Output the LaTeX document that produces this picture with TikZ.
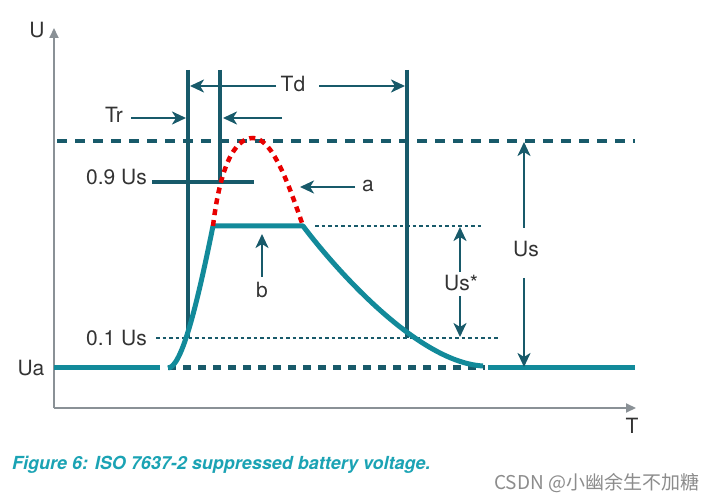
\documentclass[tikz,border=0pt]{standalone}
\usepackage{fontspec}
\setmainfont{TeX Gyre Heros}
\newfontfamily\cjkfont{Noto Sans CJK SC}
\usetikzlibrary{arrows.meta}
\definecolor{darkteal}{RGB}{24,90,106}
\definecolor{curveteal}{RGB}{18,138,154}
\definecolor{axisgray}{RGB}{138,145,150}
\definecolor{captionteal}{RGB}{27,163,180}
\definecolor{pulsered}{RGB}{232,0,0}

\begin{document}
\begin{tikzpicture}[x=1pt,y=-1pt]
	\tikzstyle{lbl} = [font=\fontsize{21}{21}\selectfont, text=black!80, inner sep=0pt]
	\tikzstyle{axis} = [axisgray, line width=2pt, -{Triangle[length=10pt,width=9pt]}]
	\tikzstyle{marker} = [darkteal, line width=3.5pt]
	\tikzstyle{pointer} = [darkteal, line width=2.5pt, -{Stealth[length=14pt,width=13pt,inset=4pt]}]
	\tikzstyle{level} = [darkteal, line width=4.5pt, dash pattern=on 10pt off 8pt]
	\tikzstyle{base} = [darkteal, line width=5pt, dash pattern=on 8pt off 7pt]
	\tikzstyle{thin} = [darkteal, line width=1.5pt, dash pattern=on 3.5pt off 3pt]
	\tikzstyle{pulse} = [curveteal, line width=5pt]

	\useasboundingbox (0,0) rectangle (720,502);

	% axes
	\coordinate (o) at (54,408);
	\coordinate (utop) at (54,28);
	\coordinate (tend) at (636,408);
	\draw [axis] (o) -- (utop);
	\draw [axis] (o) -- (tend);
	\node (U) [lbl] at (37,30) {U};
	\node (T) [lbl] at (632,426) {T};

	% reference levels
	\coordinate (us1) at (57,141);
	\coordinate (us2) at (635,141);
	\draw [level] (us1) -- (us2);
	\coordinate (ua1) at (168,368);
	\coordinate (ua2) at (485,368);
	\draw [base] (ua1) -- (ua2);
	\coordinate (p10a) at (156,338);
	\coordinate (p10b) at (498,338);
	\draw [thin] (p10a) -- (p10b);
	\coordinate (flat1) at (315,226);
	\coordinate (flat2) at (483,226);
	\draw [thin] (flat1) -- (flat2);

	% time markers
	\coordinate (m1a) at (188,70);
	\coordinate (m1b) at (188,338);
	\coordinate (m2a) at (220,70);
	\coordinate (m2b) at (220,182);
	\coordinate (m3a) at (407,70);
	\coordinate (m3b) at (407,338);
	\draw [marker] (m1a) -- (m1b);
	\draw [marker] (m2a) -- (m2b);
	\draw [marker] (m3a) -- (m3b);
	\coordinate (p90a) at (152,182);
	\coordinate (p90b) at (254,182);
	\draw [marker] (p90a) -- (p90b);

	% pulse
	\coordinate (s0) at (54,368);
	\coordinate (s1) at (160,368);
	\coordinate (r0) at (168,368);
	\coordinate (r1) at (213,226);
	\coordinate (f1) at (303,226);
	\coordinate (e0) at (483,366);
	\coordinate (e1) at (488,368);
	\coordinate (e2) at (635,368);
	\draw [pulse] (s0) -- (s1);
	\draw [pulse, line join=round] (r0) .. controls (182,368) and (198,300) .. (r1) -- (f1)
		.. controls (330,262) and (415,362) .. (e0);
	\draw [pulse] (e1) -- (e2);
	\coordinate (peak) at (253,138);
	\draw [pulsered, line width=4.5pt, dash pattern=on 6pt off 5pt]
		(r1) .. controls (220,168) and (234,138) .. (peak)
		.. controls (272,138) and (288,182) .. (f1);

	% labels
	\node (Ua) [lbl] at (31,368) {Ua};
	\node (l01) [lbl, anchor=east] at (147,338) {0.1 Us};
	\node (l09) [lbl, anchor=east] at (147,177) {0.9 Us};
	\node (Tr) [lbl] at (114,115) {Tr};
	\node (Td) [lbl] at (293,84) {Td};
	\node (a) [lbl] at (368,186) {a};
	\node (b) [lbl] at (262,290) {b};
	\node (Uss) [lbl] at (461,283) {Us*};
	\node (Us) [lbl] at (526,249) {Us};

	% dimension arrows
	\coordinate (td1) at (276,86);
	\coordinate (td2) at (319,86);
	\draw [pointer] (td1) -- (190,86);
	\draw [pointer] (td2) -- (405,86);
	\coordinate (tr1) at (131,118);
	\coordinate (tr2) at (282,118);
	\draw [pointer] (tr1) -- (186,118);
	\draw [pointer] (tr2) -- (223,118);
	\coordinate (aa) at (355,187);
	\draw [pointer] (aa) -- (300,187);
	\coordinate (bb) at (262,277);
	\draw [pointer] (bb) -- (262,234);
	\coordinate (uss1) at (460,272);
	\coordinate (uss2) at (460,296);
	\draw [pointer] (uss1) -- (460,227);
	\draw [pointer] (uss2) -- (460,337);
	\coordinate (us3) at (524,228);
	\coordinate (us4) at (524,278);
	\draw [pointer] (us3) -- (524,142);
	\draw [pointer] (us4) -- (524,367);

	% caption
	\node (cap) [anchor=west, inner sep=0pt, text=captionteal,
		font=\fontsize{18}{18}\selectfont\bfseries\itshape] at (12,465)
		{Figure 6: ISO 7637-2 suppressed battery voltage.};
	\node (mark) [anchor=west, inner sep=0pt, text=black!45,
		font=\cjkfont\fontsize{19}{19}\selectfont] at (494,483)
		{CSDN @小幽余生不加糖};
\end{tikzpicture}
\end{document}
